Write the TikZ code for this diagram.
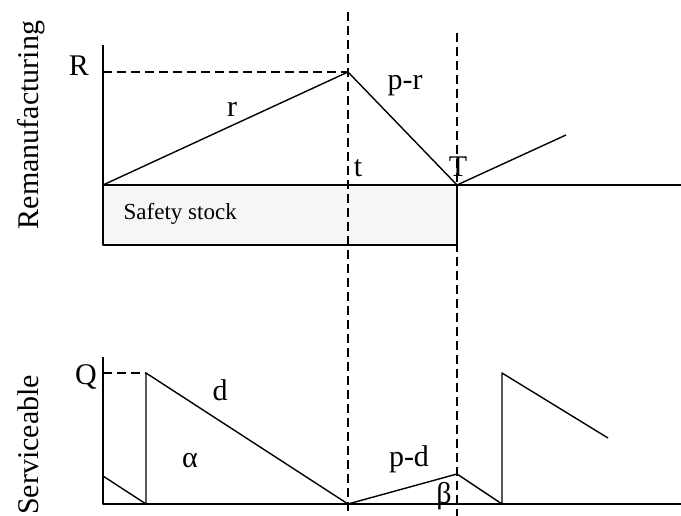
\documentclass[tikz,border=0pt]{standalone}
\usepackage{fontspec}
\setmainfont{Liberation Serif}
\begin{document}
\begin{tikzpicture}[x=1pt, y=-1pt, line width=1.4pt, line join=round,
		font=\fontsize{30}{35}\selectfont,
		guide/.style={line width=1.1pt, dash pattern=on 9pt off 5pt},
		lbl/.style={anchor=base, inner sep=0pt}]
	\useasboundingbox (0,0) rectangle (681,516);
	\node[lbl, rotate=90] (remlab) at (38,125) {Remanufacturing};
	\node[lbl, rotate=90] (serlab) at (38,445) {Serviceable};
	% remanufacturing stock
	\coordinate (o1) at (103,185);
	\coordinate (top1) at (103,45);
	\coordinate (rr) at (103,72);
	\coordinate (peak) at (348,72);
	\coordinate (tT) at (457,185);
	\coordinate (nxt) at (566,135);
	\coordinate (end1) at (681,185);
	\coordinate (ss) at (457,245);
	\draw[fill=gray!7] (o1) rectangle (ss);
	\draw (top1) -- (o1) -- (end1);
	\draw (o1) -- (peak) -- (tT) -- (nxt);
	\draw[guide] (rr) -- (peak);
	% serviceable stock
	\coordinate (o2) at (103,504);
	\coordinate (top2) at (103,357);
	\coordinate (qq) at (103,373);
	\coordinate (a0) at (103,476);
	\coordinate (a1) at (146,504);
	\coordinate (a2) at (146,373);
	\coordinate (a3) at (348,504);
	\coordinate (a4) at (457,474);
	\coordinate (a5) at (502,504);
	\coordinate (a6) at (502,373);
	\coordinate (a7) at (608,438);
	\coordinate (end2) at (681,504);
	\draw (top2) -- (o2) -- (end2);
	\draw (a0) -- (a1) -- (a2) -- (a3) -- (a4) -- (a5) -- (a6) -- (a7);
	\draw[guide] (qq) -- (a2);
	% time marks
	\coordinate (t0) at (348,12);
	\coordinate (t1) at (348,516);
	\coordinate (T0) at (457,33);
	\coordinate (T1) at (457,516);
	\draw[guide] (t0) -- (t1);
	\draw[guide] (T0) -- (T1);
	% labels
	\node[lbl] (lR) at (79,76) {R};
	\node[lbl] (lr) at (232,117) {r};
	\node[lbl] (lpr) at (405,90) {p-r};
	\node[lbl] (lt) at (358,177) {t};
	\node[lbl] (lT) at (458,177) {T};
	\node[anchor=base west, inner sep=0pt, font=\fontsize{23}{28}\selectfont] (lss) at (123,220) {Safety stock};
	\node[lbl] (lQ) at (86,384) {Q};
	\node[lbl] (ld) at (220,400) {d};
	\node[lbl] (la) at (190,467) {α};
	\node[lbl] (lpd) at (409,466) {p-d};
	\node[lbl] (lb) at (444,503) {β};
\end{tikzpicture}
\end{document}
